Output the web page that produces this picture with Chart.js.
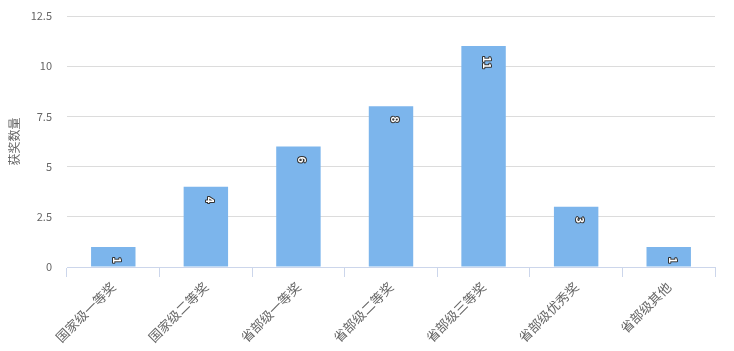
<!DOCTYPE html>
<html>
<head>
<meta charset="utf-8">
<script src="https://cdn.jsdelivr.net/npm/chart.js@4"></script>
<style>
  html, body { margin: 0; padding: 0; background: #fff; }
  #wrap { width: 734px; height: 351px; }
</style>
</head>
<body>
<div id="wrap"><canvas id="chart"></canvas></div>
<script>
const categories = ['国家级一等奖', '国家级二等奖', '省部级一等奖', '省部级二等奖', '省部级三等奖', '省部级优秀奖', '省部级其他'];
const awardCounts = [1, 4, 6, 8, 11, 3, 1];
const yTicks = [0, 2.5, 5, 7.5, 10, 12.5];
const yTitle = '获奖数量';

const FONT = '"Noto Sans CJK SC", "Microsoft YaHei", sans-serif';

// rotated data labels inside the top of each bar
const barLabels = {
    id: 'barLabels',
    afterDatasetsDraw(chart) {
        const ctx = chart.ctx;
        const meta = chart.getDatasetMeta(0);
        ctx.save();
        ctx.font = 'bold 11px ' + FONT;
        ctx.textAlign = 'left';
        ctx.textBaseline = 'middle';
        ctx.lineJoin = 'round';
        meta.data.forEach((bar, i) => {
            const text = String(awardCounts[i]);
            const w = ctx.measureText(text).width;
            let start = bar.y + 10;
            if (start + w > bar.base - 2) start = bar.base - 2 - w;
            ctx.save();
            ctx.translate(bar.x + 4, start);
            ctx.rotate(Math.PI / 2);
            ctx.strokeStyle = '#333';
            ctx.lineWidth = 2;
            ctx.strokeText(text, 0, 0);
            ctx.fillStyle = '#fff';
            ctx.fillText(text, 0, 0);
            ctx.restore();
        });
        ctx.restore();
    }
};

new Chart(document.getElementById('chart'), {
    type: 'bar',
    data: {
        labels: categories,
        datasets: [{
            data: awardCounts,
            backgroundColor: '#7cb5ec',
            borderWidth: 0,
            categoryPercentage: 1,
            barPercentage: 0.48
        }]
    },
    options: {
        responsive: true,
        maintainAspectRatio: false,
        animation: false,
        layout: { padding: { left: 0, right: 19, top: 16, bottom: 0 } },
        plugins: {
            legend: { display: false },
            tooltip: { enabled: false }
        },
        scales: {
            x: {
                afterFit: s => { s.height = 84; },
                grid: {
                    drawOnChartArea: false,
                    drawTicks: true,
                    tickLength: 10,
                    color: '#ccd6eb',
                    offset: true
                },
                border: { color: '#ccd6eb' },
                ticks: {
                    color: '#666666',
                    font: { family: FONT, size: 13 },
                    minRotation: 45,
                    maxRotation: 45,
                    padding: 2,
                    autoSkip: false
                }
            },
            y: {
                min: 0,
                max: 12.5,
                afterFit: s => { s.width = 67; },
                afterBuildTicks: s => { s.ticks = yTicks.map(v => ({ value: v })); },
                grid: { color: '#dcdcdc', drawTicks: true, tickLength: 11, tickColor: 'rgba(0,0,0,0)' },
                border: { display: false },
                ticks: {
                    color: '#666666',
                    font: { family: FONT, size: 11 },
                    padding: 4,
                    callback: v => String(v)
                },
                title: {
                    display: true,
                    text: yTitle,
                    color: '#666666',
                    font: { family: FONT, size: 12 },
                    padding: { top: 7, bottom: 0 }
                }
            }
        }
    },
    plugins: [barLabels]
});
</script>
</body>
</html>
